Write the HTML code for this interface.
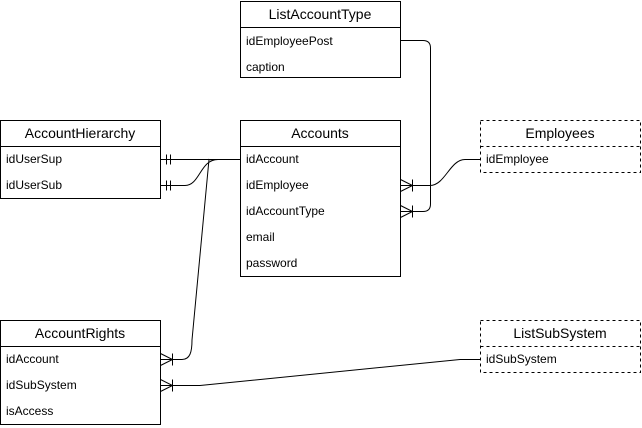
<!DOCTYPE html>
<html><head><meta charset="utf-8"><style>
html,body{margin:0;padding:0;background:#fff;width:642px;height:428px;overflow:hidden}
text{font-family:"Liberation Sans",Arial,sans-serif;fill:#000}
.t{font-size:14px;text-anchor:middle}
.r{font-size:12px}
</style></head><body>
<svg width="642" height="428" viewBox="0 0 642 428" xmlns="http://www.w3.org/2000/svg">
<g fill="none" stroke="#000" stroke-width="1">
<!-- ListAccountType -->
<rect x="240.5" y="1.5" width="160" height="76"/><line x1="240.5" y1="27.5" x2="400.5" y2="27.5"/>
<!-- AccountHierarchy -->
<rect x="0.5" y="120.5" width="160" height="78"/><line x1="0.5" y1="146.5" x2="160.5" y2="146.5"/>
<!-- Accounts -->
<rect x="240.5" y="120.5" width="160" height="156"/><line x1="240.5" y1="146.5" x2="400.5" y2="146.5"/>
<!-- Employees -->
<rect x="480.5" y="120.5" width="160" height="52" stroke-dasharray="3,3"/><line x1="480.5" y1="146.5" x2="640.5" y2="146.5" stroke-dasharray="3,3"/>
<!-- AccountRights -->
<rect x="0.5" y="320.5" width="160" height="104"/><line x1="0.5" y1="346.5" x2="160.5" y2="346.5"/>
<!-- ListSubSystem -->
<rect x="480.5" y="320.5" width="160" height="52" stroke-dasharray="3,3"/><line x1="480.5" y1="346.5" x2="640.5" y2="346.5" stroke-dasharray="3,3"/>

<!-- connectors -->
<path d="M160.5 159.5 L240.5 159.5"/>
<path d="M160.5 185.5 L185 185.5 C200 185.5 200 159.5 218 159.5"/>
<path d="M160.5 359.5 L182 359.5 C190 359.5 192 352 192 340 L209 159.5 C210 160 212 159.5 218 159.5"/>
<path d="M400.5 185.5 L430 185.5 C445 185.5 450 159.5 465 159.5 L480.5 159.5"/>
<path d="M400.5 40.5 L423 40.5 Q430.5 40.5 430.5 48 L430.5 204 Q430.5 211.5 423 211.5 L400.5 211.5"/>
<path d="M160.5 385.5 L200 385.5 L460 359.5 L480.5 359.5"/>
<!-- || marks -->
<path d="M166.5 154.5 V164.5 M170.5 154.5 V164.5 M166.5 180.5 V190.5 M170.5 180.5 V190.5"/>
<!-- crow feet -->
<path d="M160.5 353.5 L172.5 359.5 L160.5 365.5 M172.5 353.5 V365.5"/>
<path d="M160.5 379.5 L172.5 385.5 L160.5 391.5 M172.5 379.5 V391.5"/>
<path d="M400.5 179.5 L412.5 185.5 L400.5 191.5 M412.5 179.5 V191.5"/>
<path d="M400.5 205.5 L412.5 211.5 L400.5 217.5 M412.5 205.5 V217.5"/>
</g>
<text class="t" x="320" y="19">ListAccountType</text>
<text class="r" x="246" y="45">idEmployeePost</text>
<text class="r" x="246" y="71">caption</text>
<text class="t" x="80" y="138">AccountHierarchy</text>
<text class="r" x="6" y="163">idUserSup</text>
<text class="r" x="6" y="189">idUserSub</text>
<text class="t" x="320" y="138">Accounts</text>
<text class="r" x="246" y="163">idAccount</text>
<text class="r" x="246" y="189">idEmployee</text>
<text class="r" x="246" y="215">idAccountType</text>
<text class="r" x="246" y="241">email</text>
<text class="r" x="246" y="267">password</text>
<text class="t" x="560" y="138">Employees</text>
<text class="r" x="486" y="163">idEmployee</text>
<text class="t" x="80" y="338">AccountRights</text>
<text class="r" x="6" y="363">idAccount</text>
<text class="r" x="6" y="389">idSubSystem</text>
<text class="r" x="6" y="415">isAccess</text>
<text class="t" x="560" y="338">ListSubSystem</text>
<text class="r" x="486" y="363">idSubSystem</text>
</svg>
</body></html>
